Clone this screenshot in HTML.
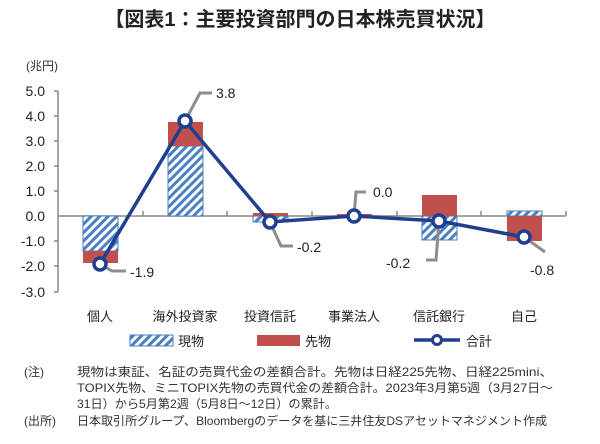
<!DOCTYPE html>
<html><head><meta charset="utf-8"><style>
body{margin:0;background:#fff;}
svg{display:block;font-family:"Liberation Sans","Noto Sans CJK JP",sans-serif;}
</style></head><body>
<svg width="600" height="444" viewBox="0 0 600 444" xmlns="http://www.w3.org/2000/svg">
<defs>
<pattern id="h" width="6" height="6" patternUnits="userSpaceOnUse" patternTransform="rotate(45)">
<rect width="6" height="6" fill="#fff"/><rect width="3" height="6" fill="#4a7fc0"/>
</pattern>
</defs>
<text x="300" y="26" text-anchor="middle" font-size="20" font-weight="bold" fill="#222">【図表1：主要投資部門の日本株売買状況】</text>
<text x="26" y="70" font-size="12" fill="#333">(兆円)</text>
<g font-size="14" fill="#222" text-anchor="end">
<text x="45" y="96">5.0</text><text x="45" y="121">4.0</text><text x="45" y="146">3.0</text><text x="45" y="171">2.0</text><text x="45" y="196">1.0</text><text x="45" y="221">0.0</text><text x="45" y="246">-1.0</text><text x="45" y="271">-2.0</text><text x="45" y="297">-3.0</text>
</g>
<g stroke="#888" stroke-width="1.5">
<line x1="58" y1="91" x2="58" y2="292"/>
<line x1="58" y1="216" x2="566" y2="216"/>
<line x1="54" y1="91" x2="58" y2="91"/><line x1="54" y1="116" x2="58" y2="116"/><line x1="54" y1="141" x2="58" y2="141"/><line x1="54" y1="166" x2="58" y2="166"/><line x1="54" y1="191" x2="58" y2="191"/><line x1="54" y1="241" x2="58" y2="241"/><line x1="54" y1="266" x2="58" y2="266"/><line x1="54" y1="292" x2="58" y2="292"/>
<line x1="143" y1="211" x2="143" y2="216"/><line x1="227" y1="211" x2="227" y2="216"/><line x1="312" y1="211" x2="312" y2="216"/><line x1="397" y1="211" x2="397" y2="216"/><line x1="481" y1="211" x2="481" y2="216"/><line x1="566" y1="211" x2="566" y2="216"/>
</g>
<g stroke="#4a7fc0" stroke-width="1">
<rect x="83" y="216" width="35" height="35" fill="url(#h)"/>
<rect x="168" y="146" width="35" height="70" fill="url(#h)"/>
<rect x="253" y="216" width="35" height="6" fill="url(#h)"/>
<rect x="422" y="216" width="35" height="24" fill="url(#h)"/>
<rect x="507" y="211" width="35" height="5" fill="url(#h)"/>
</g>
<g fill="#c0504d">
<rect x="83" y="251" width="35" height="12"/>
<rect x="168" y="122" width="35" height="24"/>
<rect x="253" y="213" width="35" height="3"/>
<rect x="337" y="214" width="35" height="2"/>
<rect x="422" y="195" width="35" height="21"/>
<rect x="507" y="216" width="35" height="25"/>
</g>
<g stroke="#8c8c8c" stroke-width="3" fill="none">
<polyline points="100,264 112,271 126,271"/>
<polyline points="185,121 200,93 212,93"/>
<polyline points="270,222 281,246 293,246"/>
<polyline points="354,216 356,192 366,192"/>
<polyline points="439,221 436,260 426,260"/>
<polyline points="524,237 545,252"/>
</g>
<g font-size="14" fill="#222">
<text x="130" y="277">-1.9</text>
<text x="216" y="98">3.8</text>
<text x="297" y="252">-0.2</text>
<text x="373" y="197">0.0</text>
<text x="386" y="268">-0.2</text>
<text x="530" y="275">-0.8</text>
</g>
<polyline points="100,264 185,121 270,222 354,216 439,221 524,237" fill="none" stroke="#1f3f8f" stroke-width="3.5"/>
<g fill="#fff" stroke="#1f3f8f" stroke-width="3.5">
<circle cx="100" cy="264" r="6"/><circle cx="185" cy="121" r="6"/><circle cx="270" cy="222" r="6"/><circle cx="354" cy="216" r="6"/><circle cx="439" cy="221" r="6"/><circle cx="524" cy="237" r="6"/>
</g>
<g font-size="13" fill="#222" text-anchor="middle">
<text x="100" y="321">個人</text><text x="185" y="321">海外投資家</text><text x="270" y="321">投資信託</text><text x="354" y="321">事業法人</text><text x="439" y="321">信託銀行</text><text x="524" y="321">自己</text>
</g>
<rect x="130" y="335" width="43" height="11" fill="url(#h)" stroke="#4a7fc0"/>
<text x="178" y="346" font-size="13" fill="#222">現物</text>
<rect x="257" y="335" width="43" height="11" fill="#c0504d"/>
<text x="305" y="346" font-size="13" fill="#222">先物</text>
<line x1="414" y1="340" x2="460" y2="340" stroke="#1f3f8f" stroke-width="3.5"/>
<circle cx="437" cy="340" r="4.5" fill="#fff" stroke="#1f3f8f" stroke-width="3"/>
<text x="466" y="346" font-size="13" fill="#222">合計</text>
<g font-size="12" fill="#333">
<text x="24" y="376">(注)</text>
<text x="77" y="376" textLength="476" lengthAdjust="spacingAndGlyphs">現物は東証、名証の売買代金の差額合計。先物は日経225先物、日経225mini、</text>
<text x="77" y="392" textLength="476" lengthAdjust="spacingAndGlyphs">TOPIX先物、ミニTOPIX先物の売買代金の差額合計。2023年3月第5週（3月27日～</text>
<text x="77" y="408" textLength="260" lengthAdjust="spacingAndGlyphs">31日）から5月第2週（5月8日～12日）の累計。</text>
<text x="24" y="425">(出所)</text>
<text x="77" y="425" textLength="470" lengthAdjust="spacingAndGlyphs">日本取引所グループ、Bloombergのデータを基に三井住友DSアセットマネジメント作成</text>
</g>
</svg>
</body></html>
